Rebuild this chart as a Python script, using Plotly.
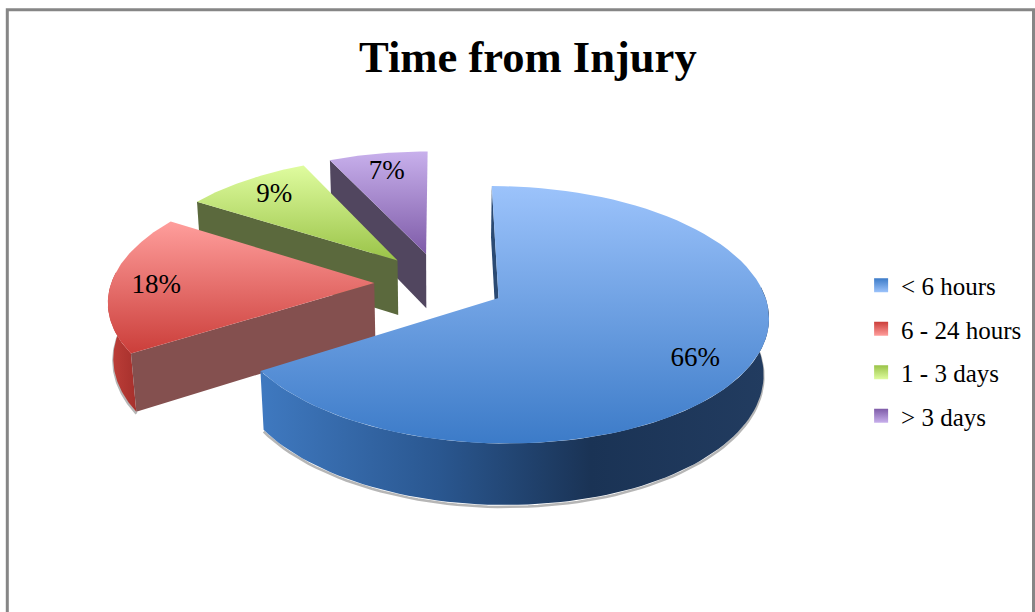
import numpy as np
import plotly.graph_objs as go

# data
categories = ['< 6 hours', '6 - 24 hours', '1 - 3 days', '> 3 days']
values = [66, 18, 9, 7]
labels = ['66%', '18%', '9%', '7%']

# colours per slice (light end, dark end of the top face)
top_light = ['#9CC3FB', '#FF9E9C', '#DFFC9F', '#C8B0EC']
top_dark = ['#3C7BC8', '#CB3E3A', '#9AC348', '#7E5BA8']
face_colors = ['#2B4A73', '#84504F', '#5B693D', '#51465F']
wall_scale = [
    [[0, '#3F79C0'], [0.35, '#2A5790'], [0.65, '#1A3355'], [1, '#223C60']],
    [[0, '#C0403A'], [1, '#A6302C']],
    [[0, '#5B693D'], [1, '#5B693D']],
    [[0, '#51465F'], [1, '#51465F']],
]
label_dist = [0.79, 0.83, 0.80, 0.80]
label_drop = [0.042, 0.016, 0, 0]

# tilted pie with a little perspective, radius = 1
explode = 0.25
thickness = 0.242
tilt = np.radians(27.8)
cam_dist = 6.9
scale = 263
center_x = 440
center_y = 283


def project(X, Y, Z):
    depth = 1 + (Y * np.cos(tilt) - Z * np.sin(tilt)) / cam_dist
    up = Y * np.sin(tilt) + Z * np.cos(tilt)
    return center_x + scale * X / depth, center_y - scale * up / depth


def arc(a0, a1, z, off):
    ang = np.linspace(a0, a1, 80)
    return off[0] + np.sin(ang), off[1] + np.cos(ang), np.full(80, z)


fractions = np.array(values) / sum(values)
stops = np.concatenate([[0], np.cumsum(fractions)]) * 2 * np.pi
plots = []

# back to front
for i in [3, 2, 1, 0]:
    a0, a1 = stops[i], stops[i + 1]
    mid = (a0 + a1) / 2
    off = (explode * np.sin(mid), explode * np.cos(mid))

    # only the front of the rim can be seen
    vis0, vis1 = max(a0, np.radians(85)), min(a1, np.radians(275))
    if vis1 > vis0:
        # drop shadow below the slice
        ax, ay, az = arc(vis0, vis1, -thickness - 0.008, off)
        sx, sy = project(ax, ay, az)
        plots.append(go.Scatter(x=sx, y=sy, mode='lines', showlegend=False, hoverinfo='skip',
                                line=dict(color='rgba(110,110,110,0.5)', width=2.5)))

        # outer wall
        tx, ty, tz = arc(vis0, vis1, 0, off)
        bx, by, bz = arc(vis0, vis1, -thickness, off)
        wx, wy = project(np.concatenate([tx, bx[::-1]]), np.concatenate([ty, by[::-1]]),
                         np.concatenate([tz, bz[::-1]]))
        plots.append(go.Scatter(x=wx, y=wy, mode='lines', fill='toself', showlegend=False, hoverinfo='skip',
                                line=dict(width=0),
                                fillgradient=dict(type='horizontal', colorscale=wall_scale[i])))

    # cut face at the start of the slice
    fx = np.array([off[0], off[0] + np.sin(a0), off[0] + np.sin(a0), off[0]])
    fy = np.array([off[1], off[1] + np.cos(a0), off[1] + np.cos(a0), off[1]])
    fz = np.array([0, 0, -thickness, -thickness])
    px, py = project(fx, fy, fz)
    plots.append(go.Scatter(x=px, y=py, mode='lines', fill='toself', showlegend=False, hoverinfo='skip',
                            line=dict(width=0), fillcolor=face_colors[i]))

    # top face
    tx, ty, tz = arc(a0, a1, 0, off)
    qx, qy = project(np.concatenate([[off[0]], tx, [off[0]]]),
                     np.concatenate([[off[1]], ty, [off[1]]]),
                     np.concatenate([[0], tz, [0]]))
    plots.append(go.Scatter(x=qx, y=qy, mode='lines', fill='toself', showlegend=False, hoverinfo='skip',
                            line=dict(width=0),
                            fillgradient=dict(type='vertical',
                                              colorscale=[[0, top_dark[i]], [1, top_light[i]]])))

    # percent label
    lx, ly = project(off[0] + label_dist[i] * np.sin(mid), off[1] + label_dist[i] * np.cos(mid), -label_drop[i])
    plots.append(go.Scatter(x=[lx], y=[ly], mode='text', text=[labels[i]], showlegend=False,
                            hoverinfo='skip',
                            textfont=dict(family='Liberation Serif', size=27, color='black')))

# legend entries
for i, name in enumerate(categories):
    plots.append(go.Scatter(x=[None], y=[None], mode='markers', name=name, legendgroup=name,
                            marker=dict(symbol='square', size=14, color=top_dark[i],
                                        gradient=dict(type='vertical', color=top_light[i]))))

graph_layout = go.Layout(
    width=1035,
    height=612,
    margin=dict(l=0, r=0, t=0, b=0),
    paper_bgcolor='white',
    plot_bgcolor='white',
    title=dict(text='<b>Time from Injury</b>', x=0.51, y=0.908, xanchor='center', yanchor='middle',
               font=dict(family='Liberation Serif', size=44.6, color='black')),
    xaxis=dict(range=[0, 1035], visible=False),
    yaxis=dict(range=[612, 0], visible=False),
    legend=dict(x=0.832, y=0.571, xanchor='left', yanchor='top', tracegroupgap=8,
                font=dict(family='Liberation Serif', size=25, color='black'),
                bgcolor='rgba(0,0,0,0)'),
    shapes=[dict(type='rect', xref='x', yref='y', x0=7.3, x1=1033.5, y0=9.7, y1=640,
                 line=dict(color='#868686', width=3))],
    showlegend=True,
)
fig = go.Figure(plots, graph_layout)
# drop the browser's default 8px page margin
fig.write_html('out.html', config=dict(displayModeBar=False),
               post_script="document.body.style.margin='0';")
